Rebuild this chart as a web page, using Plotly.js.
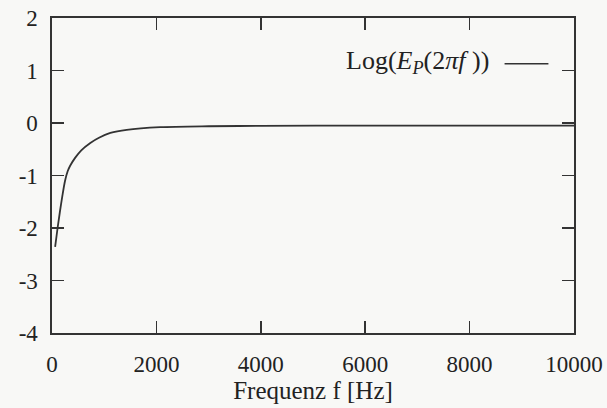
<!DOCTYPE html>
<html><head><meta charset="utf-8">
<script src="https://cdn.plot.ly/plotly-3.0.1.min.js"></script>
<style>html,body{margin:0;padding:0;background:#f8f8f6;}</style>
</head><body>
<div id="chart" style="width:607px;height:408px;"></div>
<script>
const freq = [60, 107, 150, 200, 250, 300, 350, 446, 561, 734, 900, 1118, 1431, 2075, 3000, 4000, 6000, 8000, 10000];
const logEp = [-2.36, -2.0, -1.70, -1.38, -1.10, -0.92, -0.81, -0.66, -0.52, -0.38, -0.28, -0.19, -0.13, -0.08, -0.062, -0.055, -0.05, -0.05, -0.05];
const xTicks = [0, 2000, 4000, 6000, 8000, 10000];
const yTicks = [-4, -3, -2, -1, 0, 1, 2];
const legendLabel = "Log(<i>E</i><sub><i>P</i></sub>(2<i>πf</i> ))";
const xTitle = "Frequenz f [Hz]";

const serif = "Liberation Serif, DejaVu Serif, serif";
const axisCommon = {
  showgrid: false, zeroline: false, showline: true, mirror: "ticks",
  linecolor: "#333", linewidth: 1.6, ticks: "inside", ticklen: 12,
  tickcolor: "#333", tickwidth: 1.6,
  tickfont: {family: serif, size: 23, color: "#222"}
};
const layout = {
  width: 607, height: 408,
  margin: {l: 52, r: 33, t: 18, b: 75},
  paper_bgcolor: "#f8f8f6", plot_bgcolor: "#f8f8f6",
  showlegend: false,
  xaxis: Object.assign({}, axisCommon, {
    range: [0, 10000], tickvals: xTicks, ticktext: xTicks.map(String),
    ticklabelstandoff: 10,
    title: {text: xTitle, font: {family: serif, size: 25, color: "#222"}, standoff: 0}
  }),
  yaxis: Object.assign({}, axisCommon, {
    range: [-4, 2], tickvals: yTicks, ticktext: yTicks.map(String), ticklabelstandoff: 8
  }),
  annotations: [{
    xref: "paper", yref: "paper", x: 0.841, y: 0.86, xanchor: "right", yanchor: "middle",
    text: legendLabel, showarrow: false,
    font: {family: serif, size: 26, color: "#222"}
  }],
  shapes: [{
    type: "line", xref: "paper", yref: "paper", x0: 0.867, x1: 0.951, y0: 0.855, y1: 0.855,
    line: {color: "#333", width: 1.5}
  }]
};
Plotly.newPlot("chart", [{
  x: freq, y: logEp, type: "scatter", mode: "lines",
  line: {color: "#333", width: 1.8, shape: "spline", smoothing: 0.8}, name: legendLabel
}], layout, {displayModeBar: false, staticPlot: true});
</script>
</body></html>
